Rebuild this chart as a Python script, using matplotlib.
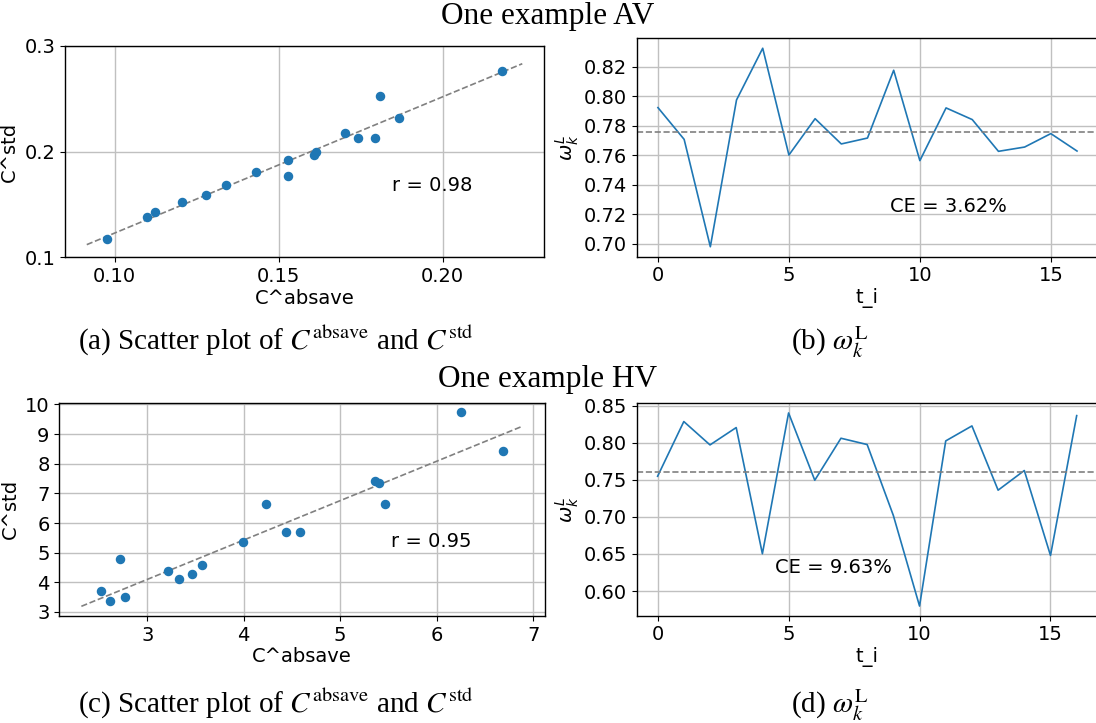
"""Two example runs (AV, HV): C^absave vs C^std scatter with fit, and omega_k^L per step."""
import numpy as np
import matplotlib
matplotlib.use("Agg")
import matplotlib.pyplot as plt

plt.rcParams["font.size"] = 14
plt.rcParams["axes.linewidth"] = 1.0
plt.rcParams["grid.color"] = "#c0c0c0"
plt.rcParams["grid.linewidth"] = 1.0

# AV example
av_absave = [0.0975, 0.1098, 0.1123, 0.1206, 0.1279, 0.1339, 0.1430, 0.1528, 0.1527,
             0.1608, 0.1615, 0.1703, 0.1743, 0.1793, 0.1808, 0.1866, 0.2182]
av_std = [0.117, 0.1384, 0.1425, 0.152, 0.159, 0.168, 0.1806, 0.1923, 0.1772,
          0.1967, 0.1998, 0.2172, 0.2124, 0.2131, 0.2528, 0.2313, 0.2764]
av_omega = [0.7922, 0.7707, 0.698, 0.7974, 0.8324, 0.7601, 0.7847, 0.7676, 0.7716,
            0.8175, 0.7563, 0.792, 0.7841, 0.7626, 0.7655, 0.7746, 0.7628]

# HV example
hv_absave = [2.526, 2.619, 2.715, 2.771, 3.218, 3.333, 3.459, 3.570, 3.988,
             4.232, 4.435, 4.583, 5.364, 5.401, 5.464, 6.252, 6.685]
hv_std = [3.719, 3.382, 4.798, 3.494, 4.371, 4.112, 4.292, 4.596, 5.348,
          6.652, 5.697, 5.697, 7.427, 7.337, 6.640, 9.730, 8.427]
hv_omega = [0.7548, 0.8285, 0.797, 0.8204, 0.6503, 0.8401, 0.7494, 0.806, 0.7975,
            0.7019, 0.5798, 0.8024, 0.8226, 0.736, 0.7625, 0.648, 0.8365]

av_r, hv_r = "r = 0.98", "r = 0.95"
av_ce, hv_ce = "CE = 3.62%", "CE = 9.63%"


def scatter_panel(ax, x, y, rtxt, rpos, xticks, yticks):
    x, y = np.asarray(x), np.asarray(y)
    ax.scatter(x, y, s=34, color="C0", zorder=3)
    k, b = np.polyfit(x, y, 1)
    span = x.max() - x.min()
    xs = np.linspace(x.min() - 0.05 * span, x.max() + 0.05 * span, 50)
    ax.plot(xs, k * xs + b, ls="--", color="gray", lw=1.2)
    ax.text(*rpos, rtxt, va="center", fontsize=14)
    ax.set_xticks(xticks)
    ax.set_yticks(yticks)
    ax.set_xlabel("C^absave", labelpad=2)
    ax.set_ylabel("C^std")
    ax.grid(True)


def omega_panel(ax, w, cetxt, cepos, yticks):
    t = np.arange(len(w))
    ax.plot(t, w, color="C0", lw=1.2)
    ax.axhline(np.mean(w), ls="--", color="gray", lw=1.2)
    ax.text(*cepos, cetxt, va="center", fontsize=14)
    ax.set_xticks([0, 5, 10, 15])
    ax.set_yticks(yticks)
    ax.set_xlabel("t_i", labelpad=2)
    ax.set_ylabel(r"$\omega_k^L$", labelpad=2)
    ax.grid(True)


fig = plt.figure(figsize=(10.96, 7.23), dpi=100)
ax_a = fig.add_axes([0.0593, 0.6441, 0.4371, 0.2927])
ax_b = fig.add_axes([0.5812, 0.645, 0.4206, 0.302])
ax_c = fig.add_axes([0.0541, 0.148, 0.4432, 0.295])
ax_d = fig.add_axes([0.5809, 0.1484, 0.4206, 0.2938])

scatter_panel(ax_a, av_absave, av_std, av_r, (0.1846, 0.1677),
              [0.10, 0.15, 0.20], [0.1, 0.2, 0.3])
ax_a.set_ylim(0.1, 0.3)
omega_panel(ax_b, av_omega, av_ce, (8.87, 0.725), np.arange(0.70, 0.821, 0.02))
scatter_panel(ax_c, hv_absave, hv_std, hv_r, (5.53, 5.37),
              [3, 4, 5, 6, 7], list(range(3, 11)))
omega_panel(ax_d, hv_omega, hv_ce, (4.47, 0.6323), np.arange(0.60, 0.851, 0.05))

serif = dict(family="Liberation Serif", fontsize=21, math_fontfamily="stix")
title = dict(serif, fontsize=22.5)
fig.text(0.5, 1 - 24 / 723, "One example AV", ha="center", va="baseline", **title)
fig.text(0.5, 1 - 387 / 723, "One example HV", ha="center", va="baseline", **title)
cap_a = r"Scatter plot of $C^{\mathrm{absave}}$ and $C^{\mathrm{std}}$"
fig.text(276 / 1096, 1 - 350 / 723, "(a) " + cap_a, ha="center", va="baseline", **serif)
fig.text(830 / 1096, 1 - 350 / 723, r"(b) $\omega_k^{\mathrm{L}}$", ha="center", va="baseline", **serif)
fig.text(276 / 1096, 1 - 713 / 723, "(c) " + cap_a, ha="center", va="baseline", **serif)
fig.text(830 / 1096, 1 - 713 / 723, r"(d) $\omega_k^{\mathrm{L}}$", ha="center", va="baseline", **serif)

fig.savefig("out.png", dpi=100)
